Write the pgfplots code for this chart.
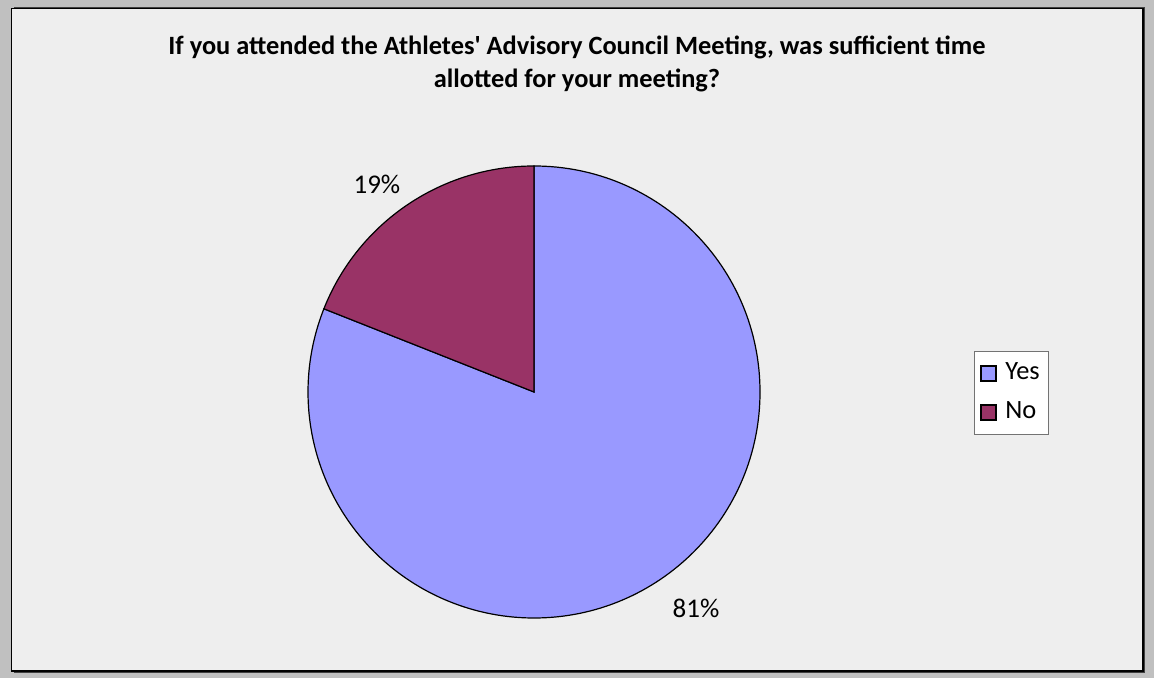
\documentclass[border=0pt]{standalone}
\usepackage{pgfplots}
\usepackage{pgfplotstable}
\pgfplotsset{compat=1.18}
\usepackage{fontspec}
\setmainfont{Carlito}
\definecolor{yescol}{HTML}{9999FF}
\definecolor{nocol}{HTML}{993366}
\definecolor{outerbg}{HTML}{C0C0C0}
\definecolor{innerbg}{HTML}{EEEEEE}
\pgfplotstableread{
label value
Yes 81
No 19
}\piedata
\begin{document}
\begin{tikzpicture}
\fill[outerbg] (0pt,0pt) rectangle (577pt,339pt);
\fill[black!75] (6.75pt,2.5pt) rectangle (572.5pt,335.5pt);
\filldraw[fill=innerbg,draw=black,line width=0.8pt] (5.75pt,3.5pt) rectangle (571.5pt,334.75pt);
\node[font=\fontsize{13.2}{16.5}\selectfont\bfseries,align=center] at (288.5pt,307pt)
  {If you attended the Athletes\textquotesingle\ Advisory Council Meeting, was sufficient time\\allotted for your meeting?};
\pgfplotstablegetelem{0}{value}\of\piedata \let\vyes\pgfplotsretval
\pgfplotstablegetelem{1}{value}\of\piedata \let\vno\pgfplotsretval
\pgfmathsetmacro{\aend}{90-3.6*\vyes}
\begin{axis}[
  hide axis, clip=false, scale only axis,
  x=113pt, y=113pt,
  xmin=-1.2, xmax=1.2, ymin=-1.2, ymax=1.2,
  at={(267pt,143pt)}, anchor=center,
  legend style={at={(1.311,0.5757)}, anchor=north west, draw=black!55, fill=white,
    font=\fontsize{13.2}{15}\selectfont, inner xsep=3pt, inner ysep=5pt,
    row sep=7.5pt, column sep=2.8pt,
    nodes={inner xsep=1.5pt, inner ysep=0pt, text height=9pt, text depth=3pt},
    cells={anchor=west}},
  legend image code/.code={\draw[#1,draw=black,line width=0.7pt] (0pt,-3.75pt) rectangle (7.5pt,3.75pt);},
]
\addlegendimage{fill=yescol}
\addlegendentry{Yes}
\addlegendimage{fill=nocol}
\addlegendentry{No}
\filldraw[fill=yescol,draw=black,line width=0.6pt] (axis cs:0,0) -- (axis cs:0,1) arc[start angle=90, end angle=\aend, radius=1] -- cycle;
\filldraw[fill=nocol,draw=black,line width=0.6pt] (axis cs:0,0) -- (axis cs:{cos(\aend)},{sin(\aend)}) arc[start angle=\aend, end angle=-270, radius=1] -- cycle;
\node[font=\fontsize{13.5}{15}\selectfont] at (axis cs:-0.695,0.920) {\vno\%};
\node[font=\fontsize{13.5}{15}\selectfont] at (axis cs:0.717,-0.956) {\vyes\%};
\end{axis}
\end{tikzpicture}
\end{document}
